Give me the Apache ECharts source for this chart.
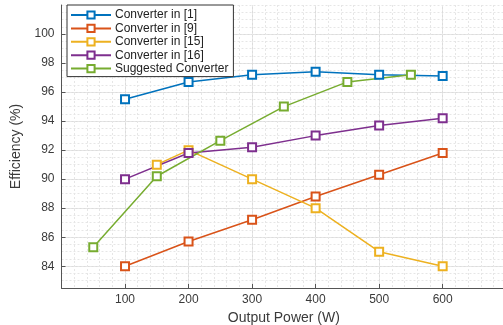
<!DOCTYPE html>
<html>
<head>
<meta charset="utf-8">
<script src="https://cdn.jsdelivr.net/npm/echarts@6/dist/echarts.min.js"></script>
<style>
  html, body { margin: 0; padding: 0; background: #fff; }
  #chart { width: 503px; height: 325px; }
</style>
</head>
<body>
<div id="chart"></div>
<script>
// Efficiency versus output power for several converter designs
const seriesNames = ['Converter in [1]', 'Converter in [9]', 'Converter in [15]', 'Converter in [16]', 'Suggested Converter'];

const powerRef1 = [100, 200, 300, 400, 500, 600];
const effRef1 = [95.5, 96.7, 97.2, 97.4, 97.2, 97.1];

const powerRef9 = [100, 200, 300, 400, 500, 600];
const effRef9 = [84.0, 85.7, 87.2, 88.8, 90.3, 91.8];

const powerRef15 = [150, 200, 300, 400, 500, 600];
const effRef15 = [91.0, 92.0, 90.0, 88.0, 85.0, 84.0];

const powerRef16 = [100, 200, 300, 400, 500, 600];
const effRef16 = [90.0, 91.8, 92.2, 93.0, 93.7, 94.2];

const powerSuggested = [50, 150, 250, 350, 450, 550];
const effSuggested = [85.3, 90.2, 92.65, 95.0, 96.7, 97.2];

const yTickValues = [84, 86, 88, 90, 92, 94, 96, 98, 100];
const xTickLabels = [100, 200, 300, 400, 500, 600];

const colors = ['#0072BD', '#D95319', '#EDB120', '#7E2F8E', '#77AC30'];

const xs = [powerRef1, powerRef9, powerRef15, powerRef16, powerSuggested];
const ys = [effRef1, effRef9, effRef15, effRef16, effSuggested];

const FONT = 'Liberation Sans, Arial, Helvetica, sans-serif';
const TEXT = '#3a3a3a';

const chart = echarts.init(document.getElementById('chart'), null, { renderer: 'canvas' });

const series = seriesNames.map((name, i) => ({
  name,
  type: 'line',
  xAxisIndex: 0,
  yAxisIndex: 0,
  data: xs[i].map((x, k) => [x, ys[i][k]]),
  symbol: 'emptyRect',
  symbolSize: 8,
  lineStyle: { width: 1.5, color: colors[i] },
  itemStyle: { color: colors[i], borderWidth: 1.5 },
  emphasis: { disabled: true },
  animation: false,
  z: 3
}));

chart.setOption({
  animation: false,
  color: colors,
  grid: { left: 61.5, right: -3.2, top: 5, bottom: 37, containLabel: false, outerBoundsMode: 'none' },
  legend: {
    orient: 'vertical',
    left: 67,
    top: 5,
    data: seriesNames,
    itemWidth: 40,
    itemHeight: 9,
    itemGap: 1.4,
    padding: [4, 5, 2, 3],
    backgroundColor: '#ffffff',
    borderColor: '#333',
    borderWidth: 1,
    borderRadius: 0,
    textStyle: { fontFamily: FONT, fontSize: 12, lineHeight: 12, color: '#222', padding: [0, 0, 0, -1] },
    z: 10
  },
  xAxis: [
    {
      type: 'value',
      min: 0, max: 700, interval: 100,
      name: 'Output Power (W)',
      nameLocation: 'middle',
      nameGap: 20,
      nameTextStyle: { fontFamily: FONT, fontSize: 14, color: TEXT },
      axisLine: { show: true, lineStyle: { color: '#555', width: 1 } },
      axisTick: { show: true, inside: true, length: 4, lineStyle: { color: '#555' } },
      axisLabel: {
        fontFamily: FONT, fontSize: 12, color: TEXT, margin: 6,
        customValues: xTickLabels
      },
      splitLine: { show: true, lineStyle: { color: '#dcdcdc', width: 1 } }
    },
    {
      type: 'value',
      min: 0, max: 700, interval: 20,
      axisLine: { show: false },
      axisTick: { show: false },
      axisLabel: { show: false },
      splitLine: { show: true, lineStyle: { color: '#e6e6e6', width: 1, type: [2, 2] } }
    }
  ],
  yAxis: [
    {
      type: 'value',
      min: 82.5, max: 102,
      name: 'Efficiency (%)',
      nameLocation: 'middle',
      nameGap: 34,
      nameTextStyle: { fontFamily: FONT, fontSize: 14, color: TEXT },
      axisLine: { show: true, lineStyle: { color: '#555', width: 1 } },
      axisTick: { show: true, inside: true, length: 4, lineStyle: { color: '#555' }, customValues: yTickValues },
      axisLabel: { fontFamily: FONT, fontSize: 12, color: TEXT, margin: 7, customValues: yTickValues },
      splitLine: { show: true, lineStyle: { color: '#dcdcdc', width: 1 } }
    },
    {
      type: 'value',
      min: 82.5, max: 102, interval: 0.5,
      axisLine: { show: false },
      axisTick: { show: false },
      axisLabel: { show: false },
      splitLine: { show: true, lineStyle: { color: '#e6e6e6', width: 1, type: [2, 2] } }
    }
  ],
  series
});
</script>
</body>
</html>
